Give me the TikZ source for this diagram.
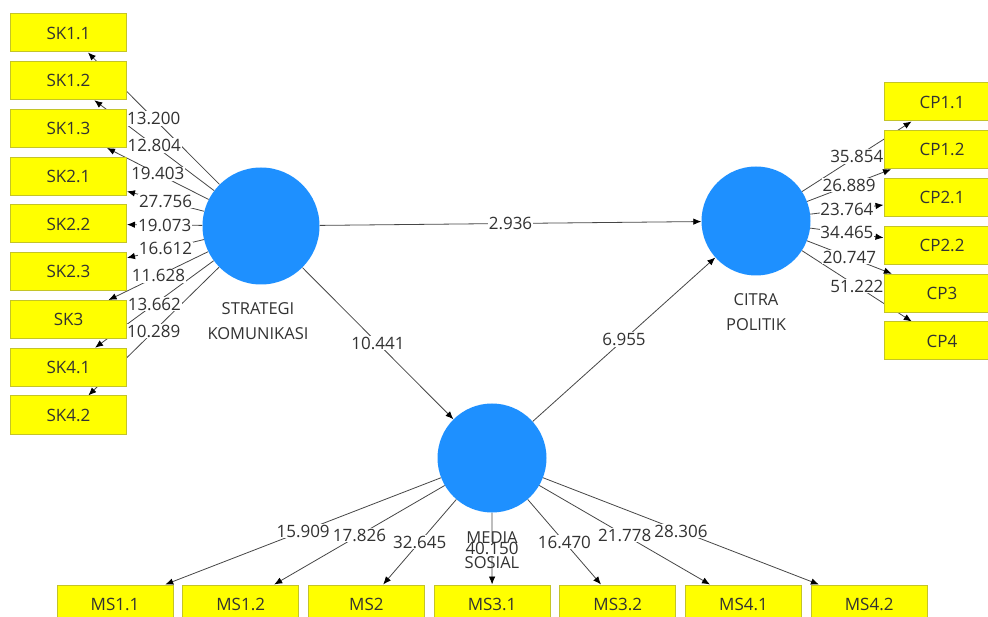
\documentclass[tikz,border=0pt]{standalone}
\usepackage{fontspec}
\setmainfont{Open Sans}
\usetikzlibrary{arrows.meta}
\pgfdeclarelayer{bg}
\pgfsetlayers{bg,main}
\definecolor{lvblue}{RGB}{30,144,255}
\definecolor{mvyellow}{RGB}{255,255,0}
\definecolor{mvedge}{RGB}{196,196,40}
\definecolor{txtgray}{RGB}{50,50,50}
\definecolor{linegray}{RGB}{70,70,70}
\tikzset{
  latent/.style={circle,fill=lvblue,minimum size=109pt,inner sep=0pt},
  manifest/.style={rectangle,fill=mvyellow,draw=mvedge,line width=1pt,minimum width=116pt,
    minimum height=38pt,inner sep=0pt,font=\fontsize{17}{20}\selectfont,text=txtgray},
  pathline/.style={draw=linegray,line width=0.8pt,-{Latex[length=8pt,width=6.5pt,black]}},
  tval/.style={fill=white,inner sep=0.8pt,font=\fontsize{17}{20}\selectfont,text=txtgray},
  lvname/.style={align=center,font=\fontsize{16.5}{25}\selectfont,text=txtgray}
}

\begin{document}
\begin{tikzpicture}[x=1pt,y=-1pt]
  \useasboundingbox (0,0) rectangle (988,617);
  % latent variables
  \node[latent,minimum size=117pt] (sk) at (261,226) {};
  \node[latent] (cp) at (756,221) {};
  \node[latent] (ms) at (492,458) {};
  % indicators
  \foreach \n [count=\i] in {SK1.1,SK1.2,SK1.3,SK2.1,SK2.2,SK2.3,SK3,SK4.1,SK4.2}
    \node[manifest] (sk\i) at (68.5,{33+47.75*(\i-1)}) {\n};
  \foreach \n [count=\i] in {CP1.1,CP1.2,CP2.1,CP2.2,CP3,CP4}
    \node[manifest] (cp\i) at (942,{102+47.8*(\i-1)}) {\n};
  \foreach \n [count=\i] in {MS1.1,MS1.2,MS2,MS3.1,MS3.2,MS4.1,MS4.2}
    \node[manifest] (ms\i) at ({115+125.7*(\i-1)},604) {\n};
  % paths and t values, under the boxes
  \begin{pgfonlayer}{bg}
    \foreach \i in {1,...,9}
      \draw[pathline] (sk) -- (sk\i);
    \foreach \i in {1,...,6}
      \draw[pathline] (cp) -- (cp\i);
    \foreach \i in {1,...,7}
      \draw[pathline] (ms) -- (ms\i);
    \draw[pathline] (sk) -- (cp);
    \draw[pathline] (sk) -- (ms);
    \draw[pathline] (ms) -- (cp);
    \foreach \v [count=\i] in {13.200,12.804,19.403,27.756,19.073,16.612,11.628,13.662,10.289}
      \path (sk) -- node[tval] {\v} (sk\i);
    \foreach \v [count=\i] in {35.854,26.889,23.764,34.465,20.747,51.222}
      \path (cp) -- node[tval] {\v} (cp\i);
    \foreach \v [count=\i] in {15.909,17.826,32.645,40.150,16.470,21.778,28.306}
      \path (ms) -- node[tval] {\v} (ms\i);
    \path (sk) -- node[tval] {2.936} (cp);
    \path (sk) -- node[tval] {10.441} (ms);
    \path (ms) -- node[tval] {6.955} (cp);
  \end{pgfonlayer}
  % construct names
  \node[lvname] (skname) at (258,321) {STRATEGI\\KOMUNIKASI};
  \node[lvname] (cpname) at (756,312) {CITRA\\POLITIK};
  \node[lvname] (msname) at (492,550) {MEDIA\\SOSIAL};
\end{tikzpicture}
\end{document}
